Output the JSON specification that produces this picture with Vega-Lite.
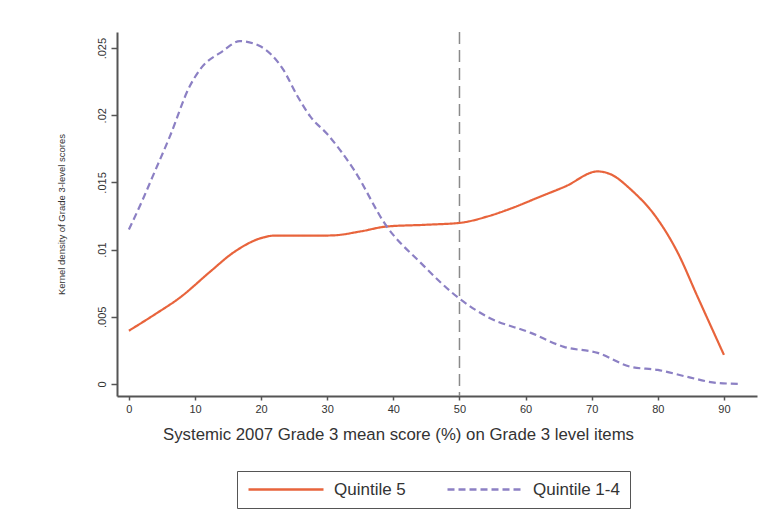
{
  "$schema": "https://vega.github.io/schema/vega-lite/v6.json",
  "width": 640,
  "height": 364,
  "autosize": "none",
  "padding": {"left": 117, "top": 32, "right": 4, "bottom": 117},
  "background": "#ffffff",
  "config": {
    "view": {"stroke": null},
    "font": "Liberation Sans",
    "axis": {"grid": false, "domainColor": "#555555", "domainWidth": 2, "tickColor": "#555555", "tickWidth": 1.5, "labelColor": "#333333", "titleColor": "#333333", "titleFontWeight": "normal"}
  },
  "datasets": {
    "curves": [
      {"score": 0, "density": 0.00396, "group": "Quintile 5"},
      {"score": 4, "density": 0.0052, "group": "Quintile 5"},
      {"score": 7.7, "density": 0.00642, "group": "Quintile 5"},
      {"score": 12.3, "density": 0.00836, "group": "Quintile 5"},
      {"score": 15.8, "density": 0.00978, "group": "Quintile 5"},
      {"score": 20.3, "density": 0.0109, "group": "Quintile 5"},
      {"score": 22, "density": 0.01104, "group": "Quintile 5"},
      {"score": 29, "density": 0.01104, "group": "Quintile 5"},
      {"score": 31, "density": 0.01106, "group": "Quintile 5"},
      {"score": 35, "density": 0.01135, "group": "Quintile 5"},
      {"score": 39, "density": 0.01172, "group": "Quintile 5"},
      {"score": 45, "density": 0.01185, "group": "Quintile 5"},
      {"score": 50.2, "density": 0.0120, "group": "Quintile 5"},
      {"score": 54.2, "density": 0.01246, "group": "Quintile 5"},
      {"score": 58, "density": 0.0131, "group": "Quintile 5"},
      {"score": 62, "density": 0.0139, "group": "Quintile 5"},
      {"score": 66, "density": 0.0147, "group": "Quintile 5"},
      {"score": 70.9, "density": 0.01582, "group": "Quintile 5"},
      {"score": 72.9, "density": 0.0156, "group": "Quintile 5"},
      {"score": 75.9, "density": 0.01448, "group": "Quintile 5"},
      {"score": 80, "density": 0.01224, "group": "Quintile 5"},
      {"score": 83, "density": 0.00978, "group": "Quintile 5"},
      {"score": 86, "density": 0.0065, "group": "Quintile 5"},
      {"score": 90, "density": 0.00216, "group": "Quintile 5"},
      {"score": 0, "density": 0.0115, "group": "Quintile 1-4"},
      {"score": 2.1, "density": 0.01373, "group": "Quintile 1-4"},
      {"score": 3.6, "density": 0.01545, "group": "Quintile 1-4"},
      {"score": 6.2, "density": 0.01843, "group": "Quintile 1-4"},
      {"score": 9.2, "density": 0.02216, "group": "Quintile 1-4"},
      {"score": 10.8, "density": 0.02343, "group": "Quintile 1-4"},
      {"score": 14.2, "density": 0.02478, "group": "Quintile 1-4"},
      {"score": 16.8, "density": 0.02552, "group": "Quintile 1-4"},
      {"score": 19.8, "density": 0.02515, "group": "Quintile 1-4"},
      {"score": 23.3, "density": 0.02343, "group": "Quintile 1-4"},
      {"score": 25.5, "density": 0.02142, "group": "Quintile 1-4"},
      {"score": 27.4, "density": 0.01993, "group": "Quintile 1-4"},
      {"score": 30, "density": 0.0186, "group": "Quintile 1-4"},
      {"score": 34, "density": 0.01597, "group": "Quintile 1-4"},
      {"score": 39, "density": 0.01172, "group": "Quintile 1-4"},
      {"score": 44.1, "density": 0.00903, "group": "Quintile 1-4"},
      {"score": 50.2, "density": 0.00627, "group": "Quintile 1-4"},
      {"score": 54.2, "density": 0.005, "group": "Quintile 1-4"},
      {"score": 60.8, "density": 0.0038, "group": "Quintile 1-4"},
      {"score": 65.8, "density": 0.00276, "group": "Quintile 1-4"},
      {"score": 70.9, "density": 0.00231, "group": "Quintile 1-4"},
      {"score": 75.9, "density": 0.00127, "group": "Quintile 1-4"},
      {"score": 80, "density": 0.00104, "group": "Quintile 1-4"},
      {"score": 84.5, "density": 0.00052, "group": "Quintile 1-4"},
      {"score": 89, "density": 0.00007, "group": "Quintile 1-4"},
      {"score": 92.6, "density": 0.0, "group": "Quintile 1-4"}
    ],
    "refline": [{"score": 50}]
  },
  "layer": [
    {
      "data": {"name": "refline"},
      "mark": {"type": "rule", "color": "#8a8a8a", "strokeWidth": 1.5, "strokeDash": [12, 6]},
      "encoding": {
        "x": {"field": "score", "type": "quantitative", "scale": {"domain": [-1.8, 95], "nice": false, "zero": false}}
      }
    },
    {
      "data": {"name": "curves"},
      "mark": {"type": "line", "interpolate": "monotone", "strokeWidth": 2.2},
      "encoding": {
        "x": {
          "field": "score", "type": "quantitative",
          "scale": {"domain": [-1.8, 95], "nice": false, "zero": false},
          "axis": {"values": [0, 10, 20, 30, 40, 50, 60, 70, 80, 90], "tickSize": 4, "labelFontSize": 11, "labelPadding": 3,
                   "title": "Systemic 2007 Grade 3 mean score (%) on Grade 3 level items", "titleFontSize": 16.8, "titlePadding": 12, "titleX": 281}
        },
        "y": {
          "field": "density", "type": "quantitative",
          "scale": {"domain": [-0.0009, 0.0262], "nice": false, "zero": false},
          "axis": {"values": [0, 0.005, 0.01, 0.015, 0.02, 0.025], "tickSize": 6, "labelFontSize": 11, "labelAngle": -90, "labelAlign": "center", "labelBaseline": "bottom", "labelPadding": 4,
                   "labelExpr": "datum.value == 0 ? '0' : replace(format(datum.value, '.3~f'), '0.', '.')",
                   "title": "Kernel density of Grade 3-level scores", "titleFontSize": 9.5, "titlePadding": 30}
        },
        "color": {
          "field": "group", "type": "nominal",
          "scale": {"domain": ["Quintile 5", "Quintile 1-4"], "range": ["#e8643c", "#8c80c4"]},
          "legend": {"title": null, "orient": "none", "legendX": 120, "legendY": 439, "direction": "horizontal", "symbolType": "stroke", "symbolSize": 5625, "symbolStrokeWidth": 2.5, "clipHeight": 17,
                     "labelFontSize": 17, "labelColor": "#333333", "strokeColor": "#555555", "padding": 10, "columnPadding": 40, "labelOffset": 9}
        },
        "strokeDash": {
          "field": "group", "type": "nominal",
          "scale": {"domain": ["Quintile 5", "Quintile 1-4"], "range": [[1, 0], [7, 4]]},
          "legend": {"title": null, "orient": "none", "legendX": 120, "legendY": 439, "direction": "horizontal", "symbolType": "stroke", "symbolSize": 5625, "symbolStrokeWidth": 2.5, "clipHeight": 17,
                     "labelFontSize": 17, "labelColor": "#333333", "strokeColor": "#555555", "padding": 10, "columnPadding": 40, "labelOffset": 9}
        }
      }
    }
  ]
}
